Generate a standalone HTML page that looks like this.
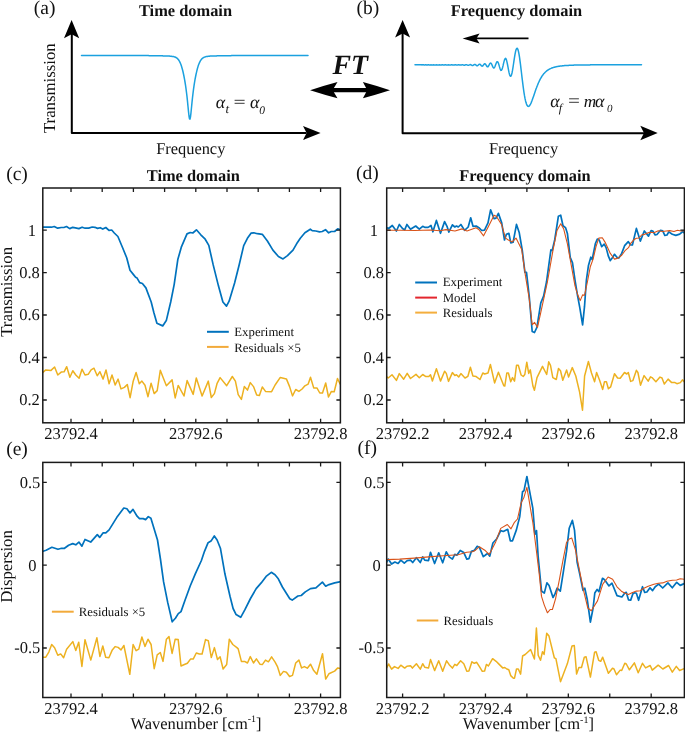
<!DOCTYPE html>
<html><head><meta charset="utf-8"><style>html,body{margin:0;padding:0;background:#fff;}svg{display:block;will-change:transform;text-rendering:geometricPrecision;}</style></head>
<body>
<svg width="685" height="734" viewBox="0 0 685 734" font-family="Liberation Serif, serif" fill="#111">
<rect width="685" height="734" fill="#fff"/>
<defs>
<clipPath id="cc"><rect x="42.8" y="188.0" width="297.59999999999997" height="234.8"/></clipPath>
<clipPath id="cd"><rect x="386.7" y="188.0" width="297.7" height="234.8"/></clipPath>
<clipPath id="ce"><rect x="42.8" y="462.4" width="297.59999999999997" height="235.10000000000002"/></clipPath>
<clipPath id="cf"><rect x="386.7" y="462.4" width="297.7" height="235.10000000000002"/></clipPath>
</defs>
<g clip-path="url(#cc)"><polyline points="42.9,372.4 45.8,369.9 51.0,370.4 54.6,367.0 57.8,375.0 61.2,372.1 64.1,371.8 66.7,366.7 69.9,377.2 72.8,370.7 75.8,375.0 79.1,378.2 82.0,369.2 85.0,375.0 88.2,374.3 91.1,369.9 94.0,368.2 97.2,375.8 99.9,371.7 103.1,379.1 106.0,369.9 109.1,383.8 112.0,375.0 115.2,385.0 118.1,379.1 121.0,388.9 124.4,387.4 127.3,384.5 130.1,397.7 133.1,381.6 136.1,372.4 139.3,383.8 141.9,381.1 145.0,385.2 148.0,396.7 151.1,383.2 154.2,393.6 157.2,390.6 160.3,370.3 163.4,378.3 166.4,385.7 172.1,379.9 175.2,397.9 178.2,385.4 184.0,396.0 187.1,380.6 193.2,394.4 196.3,378.0 202.1,396.0 208.3,381.1 211.3,397.5 214.4,393.6 217.0,383.7 220.1,377.6 226.7,385.7 232.3,376.5 235.4,381.1 238.2,394.6 241.4,399.4 244.3,386.6 247.5,390.1 250.3,382.6 253.5,386.6 256.7,394.9 259.4,395.4 262.3,386.9 265.5,391.4 271.6,391.7 275.1,385.0 280.3,377.4 286.4,378.9 289.6,386.6 292.5,395.9 295.7,389.5 298.9,391.4 302.1,389.0 304.9,385.8 308.1,384.2 310.5,377.3 313.7,387.9 316.9,387.9 319.8,393.0 322.5,393.0 325.7,383.0 328.5,397.0 331.4,391.4 334.2,391.7 337.5,378.5 340.2,384.2" fill="none" stroke="#EDB120" stroke-width="1.5" stroke-linejoin="round" stroke-linecap="round"/><polyline points="42.7,227.2 47.1,227.2 51.5,227.2 54.2,226.5 57.7,228.2 61.2,227.5 63.9,227.5 66.5,226.5 69.7,228.6 72.7,227.3 75.4,227.9 78.9,228.6 82.1,227.2 85.1,228.2 88.7,228.1 92.2,227.0 94.9,227.3 97.5,228.4 100.2,227.7 102.8,229.1 105.8,227.5 109.0,230.4 111.7,230.0 114.3,233.0 117.9,236.5 122.3,247.0 126.7,257.8 130.0,270.2 133.5,274.6 135.6,277.3 137.1,278.1 139.7,282.6 142.4,283.5 145.9,287.9 151.2,302.0 153.9,312.7 156.9,323.3 162.7,325.9 166.3,320.6 170.7,302.0 174.2,284.3 177.8,259.6 181.3,247.2 187.0,233.9 190.2,232.5 192.8,233.0 196.4,229.8 200.8,234.8 205.2,239.2 208.8,245.4 213.2,264.9 218.5,286.1 222.9,302.0 226.5,306.1 229.1,301.2 234.6,283.0 239.2,264.7 243.7,245.6 247.4,238.3 251.0,233.2 253.8,232.8 257.4,233.7 262.3,234.3 267.4,241.0 272.9,250.1 278.4,256.5 283.0,258.9 287.5,255.6 293.0,250.1 296.6,243.8 300.3,238.3 304.9,232.8 310.3,229.2 312.2,230.6 315.8,231.0 319.5,231.9 322.2,231.5 325.5,229.7 328.6,232.8 331.3,231.5 334.6,231.5 337.7,228.8 340.4,229.7" fill="none" stroke="#0072BD" stroke-width="1.7" stroke-linejoin="round" stroke-linecap="round"/></g>
<g clip-path="url(#cd)"><polyline points="386.5,376.6 388.2,378.0 392.0,374.8 396.4,380.4 399.3,373.6 403.7,379.2 407.2,373.4 410.5,378.5 416.0,374.4 419.3,377.7 422.7,374.5 425.9,376.6 428.8,376.6 430.5,374.8 432.4,381.0 436.4,368.7 440.5,381.1 444.6,371.2 446.3,373.4 448.5,381.4 452.4,372.6 454.8,375.5 456.5,374.8 458.7,377.0 460.9,373.6 465.0,378.0 467.9,376.3 470.4,367.2 472.9,376.0 476.2,376.6 480.0,379.5 482.8,373.0 484.6,374.0 488.0,373.0 490.4,364.5 494.6,382.9 498.4,372.2 503.8,385.7 504.8,386.0 506.8,373.0 508.4,373.0 510.7,381.7 512.5,377.6 514.5,381.1 516.5,365.3 518.3,365.3 521.1,375.0 523.2,376.5 524.8,374.5 526.8,362.2 528.7,373.4 530.3,369.9 532.9,386.0 534.4,390.3 537.0,377.6 542.5,366.4 546.7,374.5 548.7,361.8 550.5,365.3 552.8,377.6 556.3,379.5 558.5,368.4 560.5,370.7 562.8,380.2 566.6,369.9 568.6,377.1 572.3,367.6 575.8,376.0 579.6,392.1 582.5,410.2 584.6,376.0 588.4,361.5 591.5,373.0 594.6,381.7 596.6,372.5 599.6,380.2 602.7,389.4 604.5,381.7 606.4,381.7 608.4,388.7 610.7,386.8 614.5,373.7 617.6,378.0 620.2,378.3 624.5,372.5 626.8,374.0 628.3,372.5 630.6,381.4 632.9,380.6 636.4,370.3 637.9,372.5 640.5,385.2 644.1,375.6 648.2,381.1 650.5,376.8 652.0,377.6 655.9,381.7 660.0,377.1 662.0,378.0 664.3,384.1 668.1,379.1 671.7,382.6 675.0,382.6 676.9,383.7 680.4,382.6 682.4,379.9 684.2,381.7" fill="none" stroke="#EDB120" stroke-width="1.5" stroke-linejoin="round" stroke-linecap="round"/><polyline points="386.8,227.7 388.6,228.5 392.3,225.5 396.4,231.0 399.3,224.5 402.5,228.5 404.7,229.9 406.9,224.5 410.5,229.2 415.7,226.0 419.3,229.2 422.7,226.3 425.1,227.4 428.1,227.4 431.0,225.5 432.9,231.8 436.4,220.4 440.5,233.3 444.6,221.6 447.0,226.3 448.8,232.1 452.4,224.8 454.8,227.0 456.5,226.0 458.3,227.0 460.9,224.5 464.6,230.4 468.2,227.0 470.7,217.8 473.0,226.3 476.2,226.0 478.9,227.7 481.7,230.5 484.5,230.1 488.0,222.9 490.6,209.9 494.1,218.7 496.0,218.1 498.4,213.3 501.7,222.9 504.5,240.0 506.4,234.3 508.9,233.4 510.8,242.9 513.1,242.3 516.5,224.4 519.2,232.4 522.3,250.5 524.9,272.4 526.5,272.4 529.3,297.2 532.2,331.5 534.5,332.5 536.9,327.3 540.8,302.9 543.6,296.2 546.5,282.0 550.9,249.9 552.2,250.5 554.7,240.0 558.4,216.2 560.7,215.2 563.0,225.7 565.5,227.6 567.4,233.4 570.2,257.2 572.5,262.9 575.0,280.0 577.5,295.3 579.8,307.7 582.6,324.8 584.5,306.7 586.4,280.0 588.4,265.8 590.8,257.2 592.2,259.5 595.4,243.5 597.3,239.1 599.2,240.0 601.7,246.7 604.2,244.2 606.1,247.6 608.4,256.2 610.3,260.6 612.2,258.1 614.5,254.3 616.9,257.2 618.8,258.1 621.7,253.4 624.6,245.7 628.3,241.7 630.7,245.0 632.4,245.0 636.4,228.4 640.3,241.1 644.3,231.0 648.5,236.1 651.1,230.6 652.8,231.0 655.2,235.0 657.0,234.5 660.5,230.3 662.7,230.8 664.8,235.4 667.0,235.0 668.8,231.9 672.3,234.3 675.8,235.4 679.7,234.1 682.8,231.5 684.2,233.0" fill="none" stroke="#0072BD" stroke-width="1.7" stroke-linejoin="round" stroke-linecap="round"/><polyline points="386.8,230.2 400.0,230.2 415.0,230.5 430.0,230.0 440.0,230.7 446.0,229.6 455.0,231.0 462.0,228.9 467.0,231.0 476.0,227.7 478.8,229.5 483.6,235.8 488.3,226.7 494.1,215.2 496.3,216.2 501.7,224.8 505.5,238.1 508.4,240.0 512.2,241.9 516.0,238.1 521.7,249.6 525.5,276.2 529.3,299.1 532.2,324.8 534.5,322.4 537.5,327.3 540.8,312.4 547.4,282.0 553.1,249.6 557.0,230.5 560.7,223.8 563.6,228.6 567.4,243.8 571.2,264.8 575.0,285.8 577.9,295.3 580.2,300.6 582.6,294.9 584.5,295.3 587.4,282.0 590.3,266.7 593.1,259.1 596.0,246.7 598.8,238.1 602.3,237.7 605.5,242.9 610.3,253.4 614.5,259.1 617.9,258.1 621.7,255.3 625.0,250.7 628.5,247.7 630.7,243.3 633.8,239.8 636.4,238.2 639.0,238.0 641.6,235.0 645.1,234.1 647.8,232.9 650.4,232.3 653.9,232.8 658.3,230.8 662.7,231.5 666.2,231.0 669.7,230.6 674.0,231.5 677.5,230.3 681.0,231.0 684.2,230.6" fill="none" stroke="#D95319" stroke-width="1.1" stroke-linejoin="round" stroke-linecap="round"/></g>
<g clip-path="url(#ce)"><polyline points="43.2,657.2 45.8,657.2 48.8,652.1 51.7,644.5 54.6,647.7 57.8,655.3 60.7,653.9 63.6,657.7 66.6,649.2 72.8,641.6 75.8,650.4 78.7,642.2 81.9,666.4 85.0,639.7 90.8,660.1 96.9,637.8 99.9,656.5 102.8,646.0 105.7,657.2 108.9,657.7 112.3,649.9 115.2,646.6 118.1,647.4 121.0,649.9 123.9,645.5 129.8,674.3 133.1,644.5 136.1,650.7 138.8,649.1 141.9,636.9 145.0,646.4 148.0,639.2 151.1,644.5 154.2,668.7 157.2,654.9 160.3,652.5 163.0,661.4 166.4,639.2 169.0,636.6 172.1,653.4 175.2,639.2 178.2,639.6 181.0,666.0 184.4,664.5 187.4,663.2 190.5,659.1 193.2,659.1 196.3,653.0 199.4,654.0 202.1,654.0 205.5,639.6 208.3,640.7 211.3,657.6 214.4,647.6 217.5,659.5 220.1,656.8 223.1,669.0 226.7,664.5 229.3,639.2 232.8,644.5 236.9,647.6 238.2,648.9 241.4,661.4 244.6,661.4 247.5,663.0 250.3,656.6 253.5,663.0 256.4,658.9 259.9,664.2 262.3,664.6 265.5,660.1 268.4,661.8 271.6,656.9 275.1,662.1 277.6,666.9 280.3,675.4 283.5,671.4 286.4,672.2 289.6,676.5 292.5,675.4 295.7,663.0 298.9,660.1 301.6,667.9 304.4,666.6 307.3,668.2 310.5,664.2 313.7,670.6 316.9,674.3 322.5,653.7 325.7,679.1 328.9,673.8 334.6,671.1 337.8,667.9 340.2,668.5" fill="none" stroke="#EDB120" stroke-width="1.5" stroke-linejoin="round" stroke-linecap="round"/><polyline points="43.1,551.3 46.1,550.3 51.9,547.3 58.0,549.3 61.5,548.3 64.5,548.3 68.6,545.2 72.7,543.6 75.8,544.8 78.9,542.1 81.9,546.2 85.0,539.5 90.7,542.1 97.3,534.6 99.7,537.4 103.0,532.9 105.8,532.9 109.1,529.9 116.7,517.6 123.8,508.0 126.9,508.8 130.0,512.9 133.0,509.4 137.1,516.2 139.5,518.6 143.2,518.6 145.6,519.6 148.3,516.6 150.9,518.2 157.5,540.0 160.5,559.5 163.6,581.9 167.7,602.4 172.2,621.8 175.4,618.3 178.3,613.6 181.0,611.6 185.0,600.3 190.2,586.0 195.3,573.8 201.4,560.5 204.5,551.3 208.1,542.7 211.0,541.1 214.3,536.0 217.1,540.0 220.4,548.2 224.9,573.8 230.0,596.2 233.1,608.5 236.1,614.6 240.7,617.3 244.8,609.9 250.5,598.5 256.2,588.6 261.2,582.9 266.1,576.4 271.3,572.3 275.0,574.8 278.3,578.8 282.4,587.0 289.8,598.8 292.2,600.1 297.9,596.0 301.2,595.5 305.3,591.9 310.5,588.6 315.9,587.8 322.4,582.1 325.7,586.2 329.0,584.6 334.7,582.9 339.6,581.8" fill="none" stroke="#0072BD" stroke-width="1.7" stroke-linejoin="round" stroke-linecap="round"/></g>
<g clip-path="url(#cf)"><polyline points="386.8,667.7 388.6,664.0 391.6,669.1 394.5,666.6 398.1,668.4 400.8,665.2 404.7,668.1 406.9,666.2 410.5,665.8 412.4,668.1 416.4,663.7 420.3,669.1 422.7,663.7 424.7,667.2 428.5,668.1 430.5,659.6 434.6,670.6 438.7,660.8 442.7,671.3 446.6,660.8 449.2,664.7 452.4,668.1 454.8,664.3 456.8,665.5 460.6,660.8 463.8,663.7 466.8,671.3 468.9,671.0 471.9,661.8 474.3,663.3 476.7,662.3 479.6,666.9 482.3,671.3 484.6,671.0 486.4,664.4 488.4,666.0 492.6,658.7 496.1,661.3 499.2,664.4 502.7,667.9 504.8,667.5 506.8,669.0 508.8,669.8 510.7,675.6 513.4,678.2 514.5,678.2 516.5,669.0 518.3,669.0 520.6,674.1 522.6,656.0 525.2,654.5 530.6,649.5 534.4,659.0 536.4,628.1 538.2,655.2 540.5,660.3 542.5,651.7 544.1,654.5 546.7,633.3 549.0,636.1 554.3,657.8 555.9,658.7 560.5,681.7 567.4,663.6 572.0,646.0 574.3,645.6 576.6,674.1 578.9,667.5 581.5,667.5 584.3,657.2 586.1,656.8 590.4,677.1 594.6,652.2 596.1,651.7 598.7,660.3 600.7,661.3 602.7,657.2 608.4,673.2 612.5,668.2 614.0,669.0 616.5,674.7 620.2,670.1 621.7,670.5 624.8,663.3 626.3,664.0 629.4,669.8 634.4,662.9 638.2,672.8 642.5,663.3 645.6,667.9 650.2,665.5 652.3,670.1 658.2,665.2 662.8,669.0 668.6,665.5 672.3,672.1 676.3,666.4 679.6,670.5 684.2,668.6" fill="none" stroke="#EDB120" stroke-width="1.5" stroke-linejoin="round" stroke-linecap="round"/><polyline points="386.8,562.0 388.2,559.1 391.6,564.0 394.9,562.0 398.1,563.5 400.8,560.1 404.3,563.1 407.2,560.6 410.5,560.1 412.7,562.5 416.4,557.7 420.3,562.5 422.7,556.9 424.7,560.1 428.5,560.6 430.5,552.3 434.6,563.5 438.7,552.8 442.7,562.8 446.3,551.8 449.2,556.9 452.4,559.1 454.8,554.3 456.8,555.2 460.2,550.4 463.8,552.6 466.8,559.1 468.9,558.7 471.4,551.4 474.3,550.4 477.2,546.3 479.4,547.4 483.3,556.7 485.5,555.0 487.6,553.3 489.8,556.1 492.9,543.0 496.8,538.7 500.7,530.6 503.3,531.5 507.7,529.3 510.3,540.8 512.5,540.8 516.4,529.9 519.7,516.9 522.5,491.8 524.0,490.7 526.9,476.5 529.5,490.7 532.8,508.1 534.9,534.3 536.5,530.6 538.2,557.2 541.5,591.0 544.3,593.1 546.9,582.9 549.1,585.5 553.0,597.5 555.0,593.9 557.1,588.2 560.3,591.2 563.5,570.8 566.5,551.4 569.2,528.3 572.4,520.4 574.5,530.1 577.1,562.0 579.8,574.4 583.0,590.3 584.8,588.2 587.2,599.2 590.4,622.2 593.1,608.0 594.8,593.0 597.1,589.4 598.9,591.7 602.5,578.3 604.6,579.7 609.0,585.9 612.0,583.2 617.0,595.6 621.9,597.0 625.0,592.8 626.3,592.4 628.5,599.8 630.7,600.1 632.9,593.7 634.6,592.8 636.4,593.3 638.6,600.3 642.5,586.7 644.7,592.4 646.9,592.0 650.0,587.8 652.6,590.6 655.2,586.7 658.7,584.1 662.7,588.0 667.9,582.9 672.3,587.8 676.7,582.3 680.2,585.4 684.2,583.6" fill="none" stroke="#0072BD" stroke-width="1.7" stroke-linejoin="round" stroke-linecap="round"/><polyline points="386.8,559.6 399.6,559.1 414.2,558.1 428.8,556.9 443.4,555.8 458.0,554.7 466.8,552.3 472.6,551.8 475.0,550.6 479.4,546.7 484.8,550.2 489.2,554.6 495.7,541.9 500.7,528.4 507.3,524.5 511.0,528.8 514.2,522.7 517.5,519.0 521.2,502.7 524.0,497.2 526.9,487.4 529.5,502.7 532.8,522.3 536.0,547.4 539.3,574.6 541.5,596.4 544.3,605.1 547.4,612.8 550.2,609.5 552.4,609.5 555.6,598.6 559.4,579.7 563.0,560.2 566.5,542.5 569.2,539.0 571.8,538.1 575.4,549.6 578.9,567.3 583.3,589.4 587.8,608.0 591.3,610.7 597.5,600.9 602.8,584.1 608.1,577.0 612.6,579.3 617.0,586.8 621.4,591.2 625.0,593.3 628.5,594.6 632.0,592.8 636.4,591.1 640.3,590.8 643.4,588.5 648.2,586.3 653.9,584.3 658.3,583.2 662.7,582.9 667.0,581.2 672.3,580.3 676.7,580.0 680.2,578.8 684.2,579.3" fill="none" stroke="#D95319" stroke-width="1.1" stroke-linejoin="round" stroke-linecap="round"/></g>
<rect x="42.8" y="188.0" width="297.59999999999997" height="234.8" fill="none" stroke="#1a1a1a" stroke-width="1.5"/>
<path d="M71.0,422.8v-4.0M71.0,188.0v4.0M102.2,422.8v-4.0M102.2,188.0v4.0M133.4,422.8v-4.0M133.4,188.0v4.0M164.6,422.8v-4.0M164.6,188.0v4.0M195.8,422.8v-4.0M195.8,188.0v4.0M227.0,422.8v-4.0M227.0,188.0v4.0M258.2,422.8v-4.0M258.2,188.0v4.0M289.4,422.8v-4.0M289.4,188.0v4.0M320.6,422.8v-4.0M320.6,188.0v4.0M42.8,230.2h4.0M340.4,230.2h-4.0M42.8,272.6h4.0M340.4,272.6h-4.0M42.8,315.0h4.0M340.4,315.0h-4.0M42.8,357.5h4.0M340.4,357.5h-4.0M42.8,400.0h4.0M340.4,400.0h-4.0" stroke="#1a1a1a" stroke-width="1.3" fill="none"/>
<rect x="386.7" y="188.0" width="297.7" height="234.8" fill="none" stroke="#1a1a1a" stroke-width="1.5"/>
<path d="M402.6,422.8v-4.0M402.6,188.0v4.0M444.03000000000003,422.8v-4.0M444.03000000000003,188.0v4.0M485.46000000000004,422.8v-4.0M485.46000000000004,188.0v4.0M526.89,422.8v-4.0M526.89,188.0v4.0M568.32,422.8v-4.0M568.32,188.0v4.0M609.75,422.8v-4.0M609.75,188.0v4.0M651.1800000000001,422.8v-4.0M651.1800000000001,188.0v4.0M386.7,230.2h4.0M684.4,230.2h-4.0M386.7,272.6h4.0M684.4,272.6h-4.0M386.7,315.0h4.0M684.4,315.0h-4.0M386.7,357.5h4.0M684.4,357.5h-4.0M386.7,400.0h4.0M684.4,400.0h-4.0" stroke="#1a1a1a" stroke-width="1.3" fill="none"/>
<rect x="42.8" y="462.4" width="297.59999999999997" height="235.10000000000002" fill="none" stroke="#1a1a1a" stroke-width="1.5"/>
<path d="M71.0,697.5v-4.0M71.0,462.4v4.0M102.2,697.5v-4.0M102.2,462.4v4.0M133.4,697.5v-4.0M133.4,462.4v4.0M164.6,697.5v-4.0M164.6,462.4v4.0M195.8,697.5v-4.0M195.8,462.4v4.0M227.0,697.5v-4.0M227.0,462.4v4.0M258.2,697.5v-4.0M258.2,462.4v4.0M289.4,697.5v-4.0M289.4,462.4v4.0M320.6,697.5v-4.0M320.6,462.4v4.0M42.8,482.4h4.0M340.4,482.4h-4.0M42.8,565.2h4.0M340.4,565.2h-4.0M42.8,648.0h4.0M340.4,648.0h-4.0" stroke="#1a1a1a" stroke-width="1.3" fill="none"/>
<rect x="386.7" y="462.4" width="297.7" height="235.10000000000002" fill="none" stroke="#1a1a1a" stroke-width="1.5"/>
<path d="M402.6,697.5v-4.0M402.6,462.4v4.0M444.03000000000003,697.5v-4.0M444.03000000000003,462.4v4.0M485.46000000000004,697.5v-4.0M485.46000000000004,462.4v4.0M526.89,697.5v-4.0M526.89,462.4v4.0M568.32,697.5v-4.0M568.32,462.4v4.0M609.75,697.5v-4.0M609.75,462.4v4.0M651.1800000000001,697.5v-4.0M651.1800000000001,462.4v4.0M386.7,482.4h4.0M684.4,482.4h-4.0M386.7,565.2h4.0M684.4,565.2h-4.0M386.7,648.0h4.0M684.4,648.0h-4.0" stroke="#1a1a1a" stroke-width="1.3" fill="none"/>
<text x="36.01" y="235.65" font-size="16.5" text-anchor="end" >1</text>
<text x="378.01" y="235.65" font-size="16.5" text-anchor="end" >1</text>
<text x="39.84" y="278.05" font-size="16.5" text-anchor="end" >0.8</text>
<text x="384.04" y="278.05" font-size="16.5" text-anchor="end" >0.8</text>
<text x="39.84" y="320.45" font-size="16.5" text-anchor="end" >0.6</text>
<text x="384.04" y="320.45" font-size="16.5" text-anchor="end" >0.6</text>
<text x="39.84" y="362.95" font-size="16.5" text-anchor="end" >0.4</text>
<text x="384.04" y="362.95" font-size="16.5" text-anchor="end" >0.4</text>
<text x="39.84" y="405.45" font-size="16.5" text-anchor="end" >0.2</text>
<text x="384.04" y="405.45" font-size="16.5" text-anchor="end" >0.2</text>
<text x="40.34" y="487.85" font-size="16.5" text-anchor="end" >0.5</text>
<text x="384.54" y="487.85" font-size="16.5" text-anchor="end" >0.5</text>
<text x="36.54" y="570.65" font-size="16.5" text-anchor="end" >0</text>
<text x="380.64" y="570.65" font-size="16.5" text-anchor="end" >0</text>
<text x="40.34" y="653.45" font-size="16.5" text-anchor="end" >-0.5</text>
<text x="384.54" y="653.45" font-size="16.5" text-anchor="end" >-0.5</text>
<text x="71.0" y="439.0" font-size="16.5" text-anchor="middle" >23792.4</text>
<text x="71.0" y="713.7" font-size="16.5" text-anchor="middle" >23792.4</text>
<text x="195.8" y="439.0" font-size="16.5" text-anchor="middle" >23792.6</text>
<text x="195.8" y="713.7" font-size="16.5" text-anchor="middle" >23792.6</text>
<text x="320.6" y="439.0" font-size="16.5" text-anchor="middle" >23792.8</text>
<text x="320.6" y="713.7" font-size="16.5" text-anchor="middle" >23792.8</text>
<text x="402.6" y="439.0" font-size="16.5" text-anchor="middle" >23792.2</text>
<text x="402.6" y="713.7" font-size="16.5" text-anchor="middle" >23792.2</text>
<text x="485.5" y="439.0" font-size="16.5" text-anchor="middle" >23792.4</text>
<text x="485.5" y="713.7" font-size="16.5" text-anchor="middle" >23792.4</text>
<text x="568.3" y="439.0" font-size="16.5" text-anchor="middle" >23792.6</text>
<text x="568.3" y="713.7" font-size="16.5" text-anchor="middle" >23792.6</text>
<text x="651.2" y="439.0" font-size="16.5" text-anchor="middle" >23792.8</text>
<text x="651.2" y="713.7" font-size="16.5" text-anchor="middle" >23792.8</text>
<text transform="translate(12.1,291.9) rotate(-90)" font-size="16.8" text-anchor="middle">Transmission</text>
<text transform="translate(12.2,566.5) rotate(-90)" font-size="16.8" text-anchor="middle">Dispersion</text>
<text x="196.0" y="728.8" font-size="16.5" text-anchor="middle" >Wavenumber [cm<tspan font-size="10" dy="-6.5">-1</tspan><tspan dy="6.5">]</tspan></text>
<text x="528.3" y="729.0" font-size="16.5" text-anchor="middle" >Wavenumber [cm<tspan font-size="10" dy="-6.5">-1</tspan><tspan dy="6.5">]</tspan></text>
<text x="185.5" y="16.0" font-size="16.4" text-anchor="middle" font-weight="bold" >Time domain</text>
<text x="516.5" y="15.9" font-size="16.4" text-anchor="middle" font-weight="bold" >Frequency domain</text>
<text x="193.3" y="181.1" font-size="16.4" text-anchor="middle" font-weight="bold" >Time domain</text>
<text x="525.0" y="180.8" font-size="16.4" text-anchor="middle" font-weight="bold" >Frequency domain</text>
<text x="33.8" y="14.3" font-size="19.5" >(a)</text>
<text x="356.6" y="14.0" font-size="19.5" >(b)</text>
<text x="6.2" y="180.1" font-size="19.5" >(c)</text>
<text x="355.9" y="179.4" font-size="19.5" >(d)</text>
<text x="6.2" y="455.4" font-size="19.5" >(e)</text>
<text x="357.5" y="454.3" font-size="19.5" >(f)</text>
<path d="M207,331.8H228.8" stroke="#0072BD" stroke-width="2"/>
<path d="M207,346.9H228.6" stroke="#F2AA3A" stroke-width="2"/>
<text x="234.3" y="335.9" font-size="12.8" >Experiment</text>
<text x="234.3" y="351.6" font-size="12.8" >Residuals ×5</text>
<path d="M415.2,282.5H437" stroke="#0072BD" stroke-width="2"/>
<path d="M415.2,297.6H437" stroke="#E3262E" stroke-width="2"/>
<path d="M415.2,312.6H437" stroke="#F4AE3D" stroke-width="2"/>
<text x="442.7" y="286.1" font-size="12.8" >Experiment</text>
<text x="442.7" y="301.9" font-size="12.8" >Model</text>
<text x="442.7" y="316.7" font-size="12.8" >Residuals</text>
<path d="M51.9,611.7H73.7" stroke="#F2AA3A" stroke-width="2"/>
<text x="78.7" y="615.8" font-size="12.8" >Residuals ×5</text>
<path d="M416.8,620.5H438.3" stroke="#F2AA3A" stroke-width="2"/>
<text x="443.5" y="624.6" font-size="12.8" >Residuals</text>
<path d="M71.8,33V133.0H306.5" stroke="#000" stroke-width="2" fill="none" stroke-linejoin="round"/>
<path d="M71.6,20.0L79.19999999999999,38.2L71.6,34.2L63.99999999999999,38.2Z" fill="#000"/>
<path d="M320.6,133.0L303.0,125.9L306.6,133.0L303.0,140.1Z" fill="#000"/>
<polyline points="81.5,55.5 82.0,55.5 82.5,55.5 83.0,55.5 83.5,55.5 84.0,55.5 84.5,55.5 85.0,55.5 85.5,55.5 86.0,55.5 86.5,55.5 87.0,55.5 87.5,55.5 88.0,55.5 88.5,55.5 89.0,55.5 89.5,55.5 90.0,55.5 90.5,55.5 91.0,55.5 91.5,55.5 92.0,55.5 92.5,55.5 93.0,55.5 93.5,55.5 94.0,55.5 94.5,55.5 95.0,55.5 95.5,55.5 96.0,55.5 96.5,55.5 97.0,55.5 97.5,55.5 98.0,55.5 98.5,55.5 99.0,55.5 99.5,55.5 100.0,55.5 100.5,55.5 101.0,55.5 101.5,55.5 102.0,55.5 102.5,55.5 103.0,55.5 103.5,55.5 104.0,55.5 104.5,55.5 105.0,55.5 105.5,55.5 106.0,55.5 106.5,55.5 107.0,55.5 107.5,55.5 108.0,55.5 108.5,55.5 109.0,55.5 109.5,55.5 110.0,55.5 110.5,55.5 111.0,55.5 111.5,55.5 112.0,55.5 112.5,55.5 113.0,55.5 113.5,55.5 114.0,55.5 114.5,55.5 115.0,55.5 115.5,55.5 116.0,55.5 116.5,55.5 117.0,55.5 117.5,55.5 118.0,55.5 118.5,55.6 119.0,55.6 119.5,55.6 120.0,55.6 120.5,55.6 121.0,55.6 121.5,55.6 122.0,55.6 122.5,55.6 123.0,55.6 123.5,55.6 124.0,55.6 124.5,55.6 125.0,55.6 125.5,55.6 126.0,55.6 126.5,55.6 127.0,55.6 127.5,55.6 128.0,55.6 128.5,55.6 129.0,55.6 129.5,55.6 130.0,55.6 130.5,55.6 131.0,55.6 131.5,55.6 132.0,55.6 132.5,55.6 133.0,55.6 133.5,55.6 134.0,55.6 134.5,55.6 135.0,55.6 135.5,55.6 136.0,55.6 136.5,55.6 137.0,55.6 137.5,55.6 138.0,55.6 138.5,55.6 139.0,55.6 139.5,55.6 140.0,55.6 140.5,55.6 141.0,55.6 141.5,55.6 142.0,55.6 142.5,55.6 143.0,55.6 143.5,55.6 144.0,55.6 144.5,55.6 145.0,55.6 145.5,55.6 146.0,55.6 146.5,55.6 147.0,55.6 147.5,55.6 148.0,55.6 148.5,55.6 149.0,55.7 149.5,55.7 150.0,55.7 150.5,55.7 151.0,55.7 151.5,55.7 152.0,55.7 152.5,55.7 153.0,55.7 153.5,55.7 154.0,55.7 154.5,55.7 155.0,55.7 155.5,55.7 156.0,55.7 156.5,55.7 157.0,55.7 157.5,55.7 158.0,55.8 158.5,55.8 159.0,55.8 159.5,55.8 160.0,55.8 160.5,55.8 161.0,55.8 161.5,55.8 162.0,55.8 162.5,55.8 163.0,55.9 163.5,55.9 164.0,55.9 164.5,55.9 165.0,55.9 165.5,55.9 166.0,55.9 166.5,56.0 167.0,56.0 167.5,56.0 168.0,56.0 168.5,56.1 169.0,56.1 169.5,56.1 170.0,56.2 170.5,56.2 171.0,56.2 171.5,56.3 172.0,56.4 172.5,56.4 173.0,56.5 173.5,56.6 174.0,56.7 174.5,56.9 175.0,57.0 175.5,57.3 176.0,57.5 176.5,57.8 177.0,58.2 177.5,58.6 178.0,59.2 178.5,59.8 179.0,60.5 179.5,61.4 180.0,62.4 180.5,63.5 181.0,64.8 181.5,66.3 182.0,68.0 182.5,69.8 183.0,71.8 183.5,74.0 184.0,76.5 184.5,79.1 185.0,82.0 185.5,85.2 186.0,88.6 186.5,92.5 187.0,96.7 187.5,101.4 188.0,106.5 188.5,111.6 189.0,116.0 189.5,118.8 190.0,119.1 190.5,116.8 191.0,112.6 191.5,107.5 192.0,102.4 192.5,97.6 193.0,93.3 193.5,89.4 194.0,85.8 194.5,82.6 195.0,79.7 195.5,77.0 196.0,74.5 196.5,72.3 197.0,70.2 197.5,68.3 198.0,66.6 198.5,65.1 199.0,63.8 199.5,62.6 200.0,61.6 200.5,60.7 201.0,59.9 201.5,59.3 202.0,58.7 202.5,58.3 203.0,57.9 203.5,57.6 204.0,57.3 204.5,57.1 205.0,56.9 205.5,56.8 206.0,56.6 206.5,56.5 207.0,56.4 207.5,56.4 208.0,56.3 208.5,56.3 209.0,56.2 209.5,56.2 210.0,56.1 210.5,56.1 211.0,56.1 211.5,56.0 212.0,56.0 212.5,56.0 213.0,56.0 213.5,56.0 214.0,55.9 214.5,55.9 215.0,55.9 215.5,55.9 216.0,55.9 216.5,55.9 217.0,55.8 217.5,55.8 218.0,55.8 218.5,55.8 219.0,55.8 219.5,55.8 220.0,55.8 220.5,55.8 221.0,55.8 221.5,55.8 222.0,55.7 222.5,55.7 223.0,55.7 223.5,55.7 224.0,55.7 224.5,55.7 225.0,55.7 225.5,55.7 226.0,55.7 226.5,55.7 227.0,55.7 227.5,55.7 228.0,55.7 228.5,55.7 229.0,55.7 229.5,55.7 230.0,55.7 230.5,55.7 231.0,55.7 231.5,55.6 232.0,55.6 232.5,55.6 233.0,55.6 233.5,55.6 234.0,55.6 234.5,55.6 235.0,55.6 235.5,55.6 236.0,55.6 236.5,55.6 237.0,55.6 237.5,55.6 238.0,55.6 238.5,55.6 239.0,55.6 239.5,55.6 240.0,55.6 240.5,55.6 241.0,55.6 241.5,55.6 242.0,55.6 242.5,55.6 243.0,55.6 243.5,55.6 244.0,55.6 244.5,55.6 245.0,55.6 245.5,55.6 246.0,55.6 246.5,55.6 247.0,55.6 247.5,55.6 248.0,55.6 248.5,55.6 249.0,55.6 249.5,55.6 250.0,55.6 250.5,55.6 251.0,55.6 251.5,55.6 252.0,55.6 252.5,55.6 253.0,55.6 253.5,55.6 254.0,55.6 254.5,55.6 255.0,55.6 255.5,55.6 256.0,55.6 256.5,55.6 257.0,55.6 257.5,55.6 258.0,55.6 258.5,55.6 259.0,55.6 259.5,55.6 260.0,55.6 260.5,55.6 261.0,55.6 261.5,55.5 262.0,55.5 262.5,55.5 263.0,55.5 263.5,55.5 264.0,55.5 264.5,55.5 265.0,55.5 265.5,55.5 266.0,55.5 266.5,55.5 267.0,55.5 267.5,55.5 268.0,55.5 268.5,55.5 269.0,55.5 269.5,55.5 270.0,55.5 270.5,55.5 271.0,55.5 271.5,55.5 272.0,55.5 272.5,55.5 273.0,55.5 273.5,55.5 274.0,55.5 274.5,55.5 275.0,55.5 275.5,55.5 276.0,55.5 276.5,55.5 277.0,55.5 277.5,55.5 278.0,55.5 278.5,55.5 279.0,55.5 279.5,55.5 280.0,55.5 280.5,55.5 281.0,55.5 281.5,55.5 282.0,55.5 282.5,55.5 283.0,55.5 283.5,55.5 284.0,55.5 284.5,55.5 285.0,55.5 285.5,55.5 286.0,55.5 286.5,55.5 287.0,55.5 287.5,55.5 288.0,55.5 288.5,55.5 289.0,55.5 289.5,55.5 290.0,55.5 290.5,55.5 291.0,55.5 291.5,55.5 292.0,55.5 292.5,55.5 293.0,55.5 293.5,55.5 294.0,55.5 294.5,55.5 295.0,55.5 295.5,55.5 296.0,55.5 296.5,55.5 297.0,55.5 297.5,55.5 298.0,55.5 298.5,55.5 299.0,55.5 299.5,55.5 300.0,55.5 300.5,55.5 301.0,55.5 301.5,55.5 302.0,55.5 302.5,55.5 303.0,55.5 303.5,55.5 304.0,55.5 304.5,55.5 305.0,55.5 305.5,55.5 306.0,55.5 306.5,55.5 307.0,55.5 307.5,55.5 308.0,55.5" fill="none" stroke="#1BA1DF" stroke-width="1.5" stroke-linejoin="round" stroke-linecap="round"/>
<path d="M402.6,33V133.2H644" stroke="#000" stroke-width="2" fill="none" stroke-linejoin="round"/>
<path d="M402.6,19.9L410.1,37.4L402.6,33.6L395.1,37.4Z" fill="#000"/>
<path d="M657.7,133.0L640.3,125.7L644.0,133.0L640.3,140.3Z" fill="#000"/>
<polyline points="415.0,64.8 415.5,64.8 416.0,64.8 416.5,64.8 417.0,64.8 417.5,64.8 418.0,64.8 418.5,64.8 419.0,64.8 419.5,64.8 420.0,64.8 420.5,64.8 421.0,64.8 421.5,64.8 422.0,64.9 422.5,64.8 423.0,64.8 423.5,64.8 424.0,64.9 424.5,64.9 425.0,64.9 425.5,64.8 426.0,64.8 426.5,64.9 427.0,64.9 427.5,64.9 428.0,64.8 428.5,64.8 429.0,64.9 429.5,64.9 430.0,64.9 430.5,64.9 431.0,64.8 431.5,64.9 432.0,64.9 432.5,64.9 433.0,64.9 433.5,64.8 434.0,64.9 434.5,64.9 435.0,64.9 435.5,64.9 436.0,64.9 436.5,64.8 437.0,64.9 437.5,64.9 438.0,64.9 438.5,64.9 439.0,64.9 439.5,64.8 440.0,64.9 440.5,64.9 441.0,64.9 441.5,64.9 442.0,64.8 442.5,64.8 443.0,64.9 443.5,64.9 444.0,64.9 444.5,64.9 445.0,64.8 445.5,64.8 446.0,64.9 446.5,64.9 447.0,65.0 447.5,64.9 448.0,64.9 448.5,64.8 449.0,64.9 449.5,64.9 450.0,65.0 450.5,65.0 451.0,64.9 451.5,64.8 452.0,64.8 452.5,64.9 453.0,65.0 453.5,65.0 454.0,65.0 454.5,64.9 455.0,64.8 455.5,64.8 456.0,64.9 456.5,65.1 457.0,65.1 457.5,65.0 458.0,64.9 458.5,64.8 459.0,64.8 459.5,64.9 460.0,65.1 460.5,65.1 461.0,65.1 461.5,64.9 462.0,64.8 462.5,64.7 463.0,64.9 463.5,65.1 464.0,65.2 464.5,65.2 465.0,65.1 465.5,64.8 466.0,64.7 466.5,64.7 467.0,64.9 467.5,65.1 468.0,65.3 468.5,65.3 469.0,65.1 469.5,64.9 470.0,64.6 470.5,64.6 471.0,64.8 471.5,65.1 472.0,65.4 472.5,65.5 473.0,65.4 473.5,65.1 474.0,64.7 474.5,64.5 475.0,64.4 475.5,64.7 476.0,65.1 476.5,65.5 477.0,65.8 477.5,65.7 478.0,65.3 478.5,64.8 479.0,64.4 479.5,64.2 480.0,64.3 480.5,64.7 481.0,65.3 481.5,65.9 482.0,66.2 482.5,66.1 483.0,65.6 483.5,64.9 484.0,64.3 484.5,63.8 485.0,63.8 485.5,64.2 486.0,64.9 486.5,65.8 487.0,66.5 487.5,66.8 488.0,66.7 488.5,66.1 489.0,65.2 489.5,64.2 490.0,63.4 490.5,63.1 491.0,63.2 491.5,63.9 492.0,64.9 492.5,66.2 493.0,67.2 493.5,67.9 494.0,68.0 494.5,67.5 495.0,66.5 495.5,65.1 496.0,63.7 496.5,62.5 497.0,61.8 497.5,61.7 498.0,62.3 498.5,63.5 499.0,65.1 499.5,66.9 500.0,68.5 500.5,69.8 501.0,70.4 501.5,70.2 502.0,69.4 502.5,67.8 503.0,65.9 503.5,63.7 504.0,61.6 504.5,59.9 505.0,58.8 505.5,58.4 506.0,58.9 506.5,60.1 507.0,62.1 507.5,64.5 508.0,67.2 508.5,69.9 509.0,72.4 509.5,74.4 510.0,75.8 510.5,76.3 511.0,76.0 511.5,74.9 512.0,73.0 512.5,70.4 513.0,67.3 513.5,64.0 514.0,60.6 514.5,57.3 515.0,54.3 515.5,51.8 516.0,49.9 516.5,48.7 517.0,48.2 517.5,48.6 518.0,49.8 518.5,51.6 519.0,54.2 519.5,57.2 520.0,60.8 520.5,64.7 521.0,68.8 521.5,73.0 522.0,77.3 522.5,81.4 523.0,85.4 523.5,89.2 524.0,92.6 524.5,95.7 525.0,98.4 525.5,100.7 526.0,102.6 526.5,104.1 527.0,105.2 527.5,105.9 528.0,106.3 528.5,106.4 529.0,106.2 529.5,105.7 530.0,105.0 530.5,104.1 531.0,103.1 531.5,101.9 532.0,100.6 532.5,99.2 533.0,97.8 533.5,96.4 534.0,94.9 534.5,93.4 535.0,92.0 535.5,90.5 536.0,89.1 536.5,87.8 537.0,86.4 537.5,85.2 538.0,83.9 538.5,82.8 539.0,81.7 539.5,80.6 540.0,79.6 540.5,78.7 541.0,77.8 541.5,77.0 542.0,76.2 542.5,75.4 543.0,74.8 543.5,74.1 544.0,73.5 544.5,73.0 545.0,72.4 545.5,72.0 546.0,71.5 546.5,71.1 547.0,70.7 547.5,70.3 548.0,70.0 548.5,69.7 549.0,69.4 549.5,69.1 550.0,68.8 550.5,68.6 551.0,68.4 551.5,68.1 552.0,68.0 552.5,67.8 553.0,67.6 553.5,67.4 554.0,67.3 554.5,67.2 555.0,67.0 555.5,66.9 556.0,66.8 556.5,66.7 557.0,66.6 557.5,66.5 558.0,66.4 558.5,66.3 559.0,66.2 559.5,66.2 560.0,66.1 560.5,66.0 561.0,66.0 561.5,65.9 562.0,65.9 562.5,65.8 563.0,65.8 563.5,65.7 564.0,65.7 564.5,65.6 565.0,65.6 565.5,65.6 566.0,65.5 566.5,65.5 567.0,65.5 567.5,65.4 568.0,65.4 568.5,65.4 569.0,65.3 569.5,65.3 570.0,65.3 570.5,65.3 571.0,65.2 571.5,65.2 572.0,65.2 572.5,65.2 573.0,65.2 573.5,65.2 574.0,65.1 574.5,65.1 575.0,65.1 575.5,65.1 576.0,65.1 576.5,65.1 577.0,65.1 577.5,65.0 578.0,65.0 578.5,65.0 579.0,65.0 579.5,65.0 580.0,65.0 580.5,65.0 581.0,65.0 581.5,65.0 582.0,65.0 582.5,64.9 583.0,64.9 583.5,64.9 584.0,64.9 584.5,64.9 585.0,64.9 585.5,64.9 586.0,64.9 586.5,64.9 587.0,64.9 587.5,64.9 588.0,64.9 588.5,64.9 589.0,64.9 589.5,64.9 590.0,64.9 590.5,64.8 591.0,64.8 591.5,64.8 592.0,64.8 592.5,64.8 593.0,64.8 593.5,64.8 594.0,64.8 594.5,64.8 595.0,64.8 595.5,64.8 596.0,64.8 596.5,64.8 597.0,64.8 597.5,64.8 598.0,64.8 598.5,64.8 599.0,64.8 599.5,64.8 600.0,64.8 600.5,64.8 601.0,64.8 601.5,64.8 602.0,64.8 602.5,64.8 603.0,64.8 603.5,64.8 604.0,64.8 604.5,64.8 605.0,64.8 605.5,64.8 606.0,64.8 606.5,64.8 607.0,64.8 607.5,64.7 608.0,64.7 608.5,64.7 609.0,64.7 609.5,64.7 610.0,64.7 610.5,64.7 611.0,64.7 611.5,64.7 612.0,64.7 612.5,64.7 613.0,64.7 613.5,64.7 614.0,64.7 614.5,64.7 615.0,64.7 615.5,64.7 616.0,64.7 616.5,64.7 617.0,64.7 617.5,64.7 618.0,64.7 618.5,64.7 619.0,64.7 619.5,64.7 620.0,64.7 620.5,64.7 621.0,64.7 621.5,64.7 622.0,64.7 622.5,64.7 623.0,64.7 623.5,64.7 624.0,64.7 624.5,64.7 625.0,64.7 625.5,64.7 626.0,64.7 626.5,64.7 627.0,64.7 627.5,64.7 628.0,64.7 628.5,64.7 629.0,64.7 629.5,64.7 630.0,64.7 630.5,64.7 631.0,64.7 631.5,64.7 632.0,64.7 632.5,64.7 633.0,64.7 633.5,64.7 634.0,64.7 634.5,64.7 635.0,64.7 635.5,64.7 636.0,64.7 636.5,64.7 637.0,64.7 637.5,64.7 638.0,64.7 638.5,64.7 639.0,64.7 639.5,64.7 640.0,64.7 640.5,64.7 641.0,64.7 641.5,64.7" fill="none" stroke="#1BA1DF" stroke-width="1.5" stroke-linejoin="round" stroke-linecap="round"/>
<path d="M528.5,38.4H476" stroke="#000" stroke-width="1.6"/>
<path d="M462.6,38.4L479.6,33.4L476.40000000000003,38.4L479.6,43.4Z" fill="#000"/>
<text x="350.3" y="73.9" font-size="27.8" text-anchor="middle" font-weight="bold" font-style="italic" >FT</text>
<path d="M333,88H367V92.3H333Z" fill="#000"/><path d="M310.1,90.2Q324.5,85.6 337.5,82.1L333.9,88V92.3L337.5,98.3Q324.5,94.8 310.1,90.2Z" fill="#000"/><path d="M390,90.2Q375.6,85.6 362.9,82.1L366.1,88V92.3L362.9,98.3Q375.6,94.8 390,90.2Z" fill="#000"/>
<text x="215.7" y="107.8" font-size="18" font-style="italic">α</text>
<text x="225.4" y="113.2" font-size="13" font-style="italic">t</text>
<path d="M234.6,100.3H244.6M234.6,103.3H244.6" stroke="#222" stroke-width="0.9"/>
<text x="250.0" y="107.8" font-size="18" font-style="italic">α</text>
<text x="259.3" y="113.6" font-size="11.5" font-style="italic">0</text>
<text x="550.2" y="107.0" font-size="18" font-style="italic">α</text>
<text x="558.8" y="112.0" font-size="12" font-style="italic">f</text>
<path d="M569.1,98.8H578.9M569.1,102.3H578.9" stroke="#222" stroke-width="0.9"/>
<text x="583.8" y="107.0" font-size="17.2" font-style="italic">m</text>
<text x="595.0" y="107.0" font-size="18" font-style="italic">α</text>
<text x="607.0" y="112.3" font-size="11" font-style="italic">0</text>
<text transform="translate(54.8,88.2) rotate(-90)" font-size="16.8" text-anchor="middle">Transmission</text>
<text x="190.75" y="154.3" font-size="16.4" text-anchor="middle" >Frequency</text>
<text x="523.5" y="153.9" font-size="16.4" text-anchor="middle" >Frequency</text>
</svg>
</body></html>
